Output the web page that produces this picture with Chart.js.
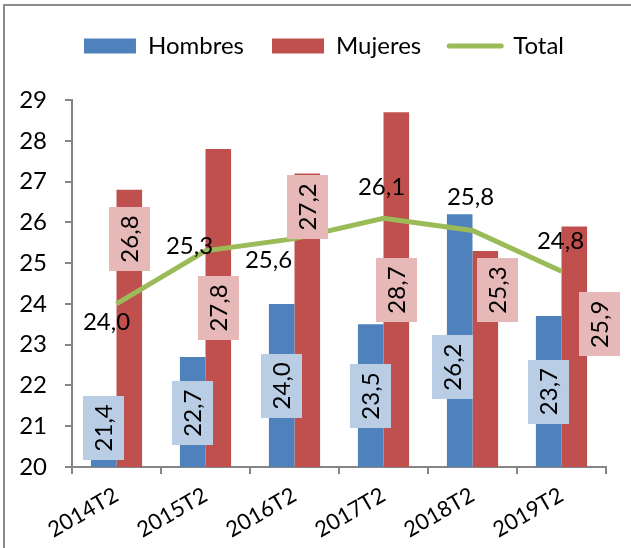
<!DOCTYPE html>
<html>
<head>
<meta charset="utf-8">
<script src="https://cdn.jsdelivr.net/npm/chart.js@4.4.1/dist/chart.umd.min.js"></script>
<style>
  body { margin: 0; background: #fff; overflow: hidden; }
  #wrap { position: relative; width: 631px; height: 548px; }
  #frame { position: absolute; left: 3px; top: 4px; width: 700px; height: 600px;
           border: 2px solid #8c8c8c; pointer-events: none; }
</style>
</head>
<body>
<div id="wrap">
  <canvas id="chart" width="631" height="548"></canvas>
  <div id="frame"></div>
</div>
<script>
// Data
const periodos = ["2014T2", "2015T2", "2016T2", "2017T2", "2018T2", "2019T2"];
const hombres = [21.4, 22.7, 24.0, 23.5, 26.2, 23.7];
const mujeres = [26.8, 27.8, 27.2, 28.7, 25.3, 25.9];
const total = [24.0, 25.3, 25.6, 26.1, 25.8, 24.8];
const yMin = 20;
const yMax = 29;

// Where the boxed labels sit (value on the y axis, shift in px)
const hombresLabelAt = [20.96, 21.32, 21.99, 21.74, 22.45, 21.85];
const hombresLabelDx = [0, 0, 0, 0, -7, 0];
const mujeresLabelAt = [25.59, 23.90, 26.38, 24.34, 24.34, 23.50];
const mujeresLabelDx = [0, 0, 0, 0, 12, 25];
// Total labels: offset from the point, px
const totalLabelDx = [-10, -16, -26, -2, -2, -1];
const totalLabelDy = [18, -5, 21, -32, -34, -31];

const FONT = "Lato, 'Open Sans', sans-serif";
const fmt = (v) => v.toFixed(1).replace(".", ",");

// extra gap under the legend, and a small shift to the right
let legendGap = 0;
const legendShift = 21;
const legendTweak = {
  id: "legendTweak",
  beforeInit(chart) {
    const fit = chart.legend.fit;
    chart.legend.fit = function () {
      fit.call(this);
      this.height += legendGap;
    };
  },
  afterLayout(chart) {
    chart.legend.left += legendShift;
    chart.legend.right += legendShift;
  },
};

// Draw the data labels
const labelsPlugin = {
  id: "labels",
  afterDatasetsDraw(chart) {
    const ctx = chart.ctx;
    const y = chart.scales.y;
    ctx.save();
    ctx.font = "24px " + FONT;

    // boxed, rotated labels on bars
    const boxed = [
      { idx: 0, at: hombresLabelAt, dx: hombresLabelDx, values: hombres, bg: "#b9cde5" },
      { idx: 1, at: mujeresLabelAt, dx: mujeresLabelDx, values: mujeres, bg: "#e6b9b8" },
    ];
    boxed.forEach((s) => {
      const meta = chart.getDatasetMeta(s.idx);
      meta.data.forEach((bar, i) => {
        const cx = bar.x + s.dx[i];
        const cy = y.getPixelForValue(s.at[i]);
        ctx.fillStyle = s.bg;
        ctx.fillRect(Math.round(cx - 20.5), Math.round(cy - 32), 41, 64);
        ctx.save();
        ctx.translate(cx, cy);
        ctx.rotate(-Math.PI / 2);
        ctx.fillStyle = "#000";
        ctx.textAlign = "center";
        ctx.textBaseline = "alphabetic";
        ctx.fillText(fmt(s.values[i]), 0, 8.5);
        ctx.restore();
      });
    });

    // plain labels on the line
    const lineMeta = chart.getDatasetMeta(2);
    ctx.textAlign = "center";
    ctx.textBaseline = "alphabetic";
    ctx.fillStyle = "#000";
    lineMeta.data.forEach((pt, i) => {
      ctx.fillText(fmt(total[i]), pt.x + totalLabelDx[i], pt.y + totalLabelDy[i] + 8.5);
    });
    ctx.restore();
  },
};

const axisColor = "#868686";

const chart = new Chart(document.getElementById("chart"), {
  type: "bar",
  data: {
    labels: periodos,
    datasets: [
      {
        label: "Hombres",
        data: hombres,
        backgroundColor: "#4f81bd",
        borderWidth: 0,
        categoryPercentage: 0.575,
        barPercentage: 1,
      },
      {
        label: "Mujeres",
        data: mujeres,
        backgroundColor: "#c0504d",
        borderWidth: 0,
        categoryPercentage: 0.575,
        barPercentage: 1,
      },
      {
        type: "line",
        label: "Total",
        data: total,
        borderColor: "#9bbb59",
        backgroundColor: "#9bbb59",
        borderWidth: 5,
        pointRadius: 0,
        tension: 0,
        order: -1,
      },
    ],
  },
  options: {
    responsive: false,
    animation: false,
    events: [],
    layout: { padding: { top: 10, left: 0, right: 25, bottom: 0 } },
    plugins: {
      tooltip: { enabled: false },
      legend: {
        position: "top",
        labels: {
          font: { family: FONT, size: 24 },
          color: "#000",
          usePointStyle: true,
          pointStyleWidth: 52,
          boxHeight: 15,
          padding: 28,
          sort: (a, b) => a.datasetIndex - b.datasetIndex,
          generateLabels(chart) {
            const items = Chart.defaults.plugins.legend.labels.generateLabels(chart);
            items.forEach((it) => {
              if (it.datasetIndex === 2) {
                it.pointStyle = "line";
                it.lineWidth = 5;
                it.strokeStyle = "#9bbb59";
                it.lineCap = "round";
              } else {
                it.pointStyle = "rect";
                it.lineWidth = 0;
              }
            });
            return items;
          },
        },
      },
    },
    scales: {
      x: {
        grid: { display: true, drawOnChartArea: false, color: axisColor, lineWidth: 2, tickLength: 7 },
        border: { color: axisColor, width: 2 },
        ticks: {
          font: { family: FONT, size: 22 },
          color: "#000",
          maxRotation: 30,
          minRotation: 30,
          padding: 8,
        },
        afterFit(scale) { scale.height = 81; },
      },
      y: {
        min: yMin,
        max: yMax,
        grid: { display: true, drawOnChartArea: false, color: axisColor, lineWidth: 2, tickLength: 7 },
        border: { color: axisColor, width: 2 },
        ticks: {
          stepSize: 1,
          font: { family: FONT, size: 24 },
          color: "#000",
          padding: 18,
        },
        afterFit(scale) { scale.width = 72; },
      },
    },
  },
  plugins: [legendTweak, labelsPlugin],
});

// place the legend row and the top of the plot like the original
const hb = chart.legend.legendHitBoxes[0];
chart.options.layout.padding.top += Math.round(45.5 - (hb.top + hb.height / 2));
chart.update();
legendGap = Math.max(0, Math.round(100 - chart.chartArea.top));
chart.update();
</script>
</body>
</html>
